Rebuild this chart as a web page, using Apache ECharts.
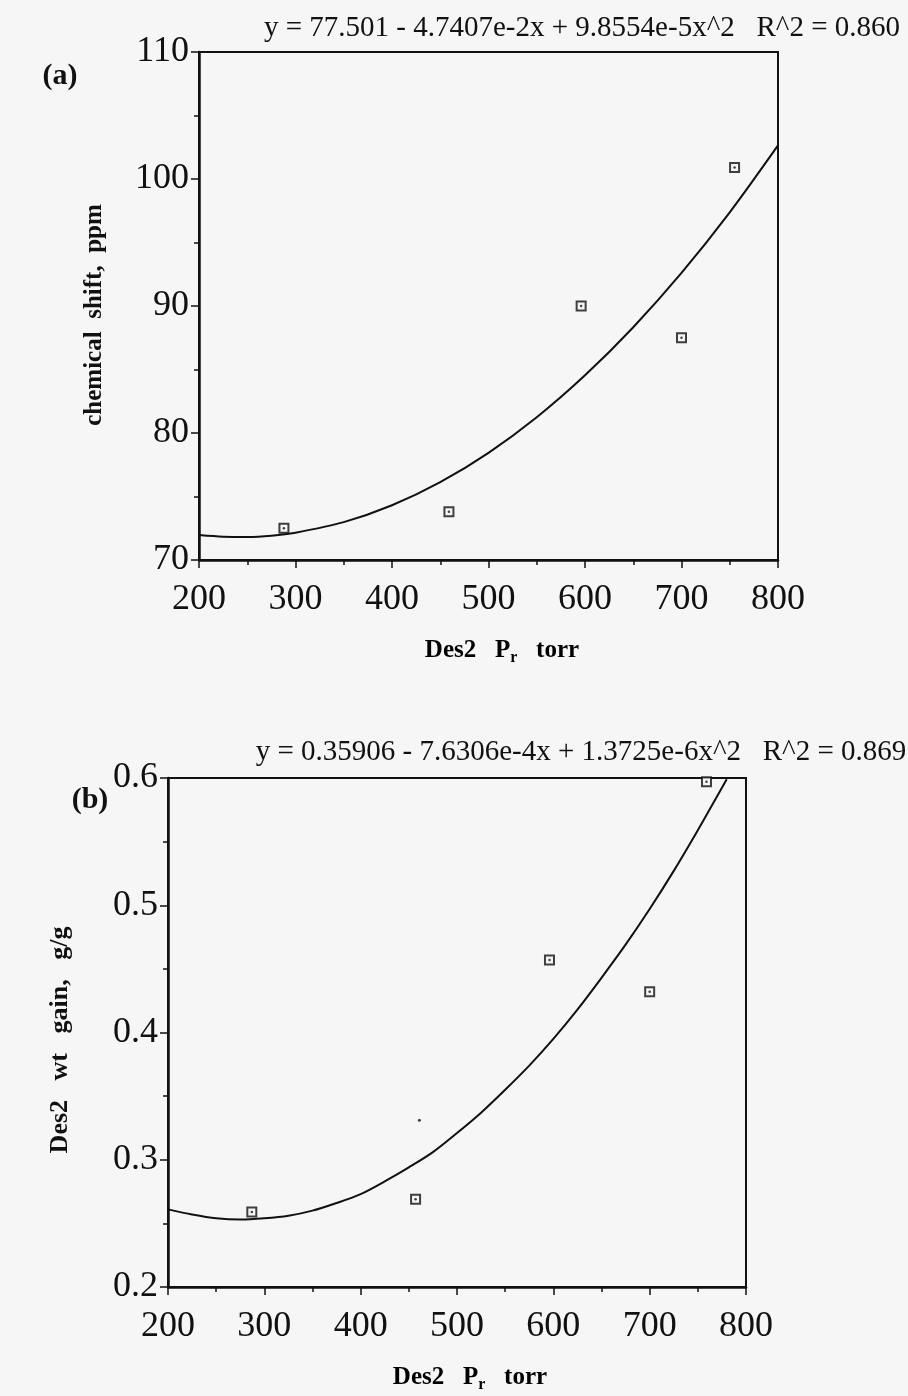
<!DOCTYPE html>
<html>
<head>
<meta charset="utf-8">
<script src="https://cdn.jsdelivr.net/npm/echarts@6/dist/echarts.min.js"></script>
<style>
html,body{margin:0;padding:0;background:#f6f6f6;}
#chart{width:908px;height:1396px;}
</style>
</head>
<body>
<div id="chart"></div>
<script>
// ---- data ----
var xTicks = [200, 300, 400, 500, 600, 700, 800];

// panel (a): chemical shift, ppm
var pressA = [288, 459, 596, 700, 755];
var shiftA = [72.5, 73.8, 90.0, 87.5, 100.9];
var fitXA = [200, 225, 250, 275, 300, 350, 400, 450, 500, 550, 600, 650, 700, 750, 800];
var fitYA = [71.96, 71.83, 71.81, 71.91, 72.15, 72.98, 74.31, 76.13, 78.44, 81.24, 84.54, 88.33, 92.61, 97.38, 102.65];
var eqA = 'y = 77.501 - 4.7407e-2x + 9.8554e-5x^2   R^2 = 0.860';

// panel (b): wt gain, g/g
var pressB = [287, 457, 596, 700, 759];
var gainB = [0.259, 0.269, 0.457, 0.432, 0.597];
var strayB = [[461, 0.331]];
var fitXB = [200, 225, 250, 275, 300, 325, 350, 375, 400, 425, 450, 475, 500, 525, 550, 575, 600, 625, 650, 675, 700, 725, 750, 765, 780];
var fitYB = [0.261, 0.257, 0.254, 0.253, 0.254, 0.256, 0.260, 0.266, 0.273, 0.283, 0.294, 0.306, 0.321, 0.337, 0.355, 0.374, 0.395, 0.418, 0.443, 0.469, 0.497, 0.527, 0.559, 0.579, 0.599];
var eqB = 'y = 0.35906 - 7.6306e-4x + 1.3725e-6x^2   R^2 = 0.869';

function zip(a, b) { return a.map(function (v, i) { return [v, b[i]]; }); }

var BG = '#f6f6f6';
var serif = '"Liberation Serif", "DejaVu Serif", serif';
var tickFont = { fontFamily: serif, fontSize: 36, color: '#111' };

function xAx(gi) {
  return {
    gridIndex: gi, type: 'value', min: 200, max: 800, interval: 100,
    axisLine: { show: true, lineStyle: { color: '#111', width: 2.5 } },
    axisTick: { show: true, inside: false, length: 8, lineStyle: { color: '#111', width: 1.5 } },
    minorTick: { show: true, splitNumber: 2, length: 5, lineStyle: { color: '#111', width: 1.5 } },
    splitLine: { show: false },
    axisLabel: Object.assign({ margin: 22 }, tickFont)
  };
}
function yAx(gi, min, max, interval, fmt) {
  return {
    gridIndex: gi, type: 'value', min: min, max: max, interval: interval,
    axisLine: { show: true, lineStyle: { color: '#111', width: 2.5 } },
    axisTick: { show: true, inside: false, length: 8, lineStyle: { color: '#111', width: 1.5 } },
    minorTick: { show: true, splitNumber: 2, length: 5, lineStyle: { color: '#111', width: 1.5 } },
    splitLine: { show: false },
    axisLabel: Object.assign({ margin: 10, formatter: fmt }, tickFont)
  };
}

function pts(gi, data) {
  return [{
    type: 'scatter', xAxisIndex: gi, yAxisIndex: gi, data: data,
    symbol: 'rect', symbolSize: 9, z: 5,
    itemStyle: { color: BG, borderColor: '#111', borderWidth: 2 }
  }, {
    type: 'scatter', xAxisIndex: gi, yAxisIndex: gi, data: data,
    symbol: 'circle', symbolSize: 2.5, z: 6,
    itemStyle: { color: '#111' }
  }];
}
function fit(gi, data) {
  return {
    type: 'line', xAxisIndex: gi, yAxisIndex: gi, data: data, smooth: 0.3,
    showSymbol: false, lineStyle: { color: '#111', width: 2 }, z: 4
  };
}

var xTitleRich = {
  b: { fontFamily: serif, fontSize: 25, fontWeight: 'bold', color: '#111' },
  s: { fontFamily: serif, fontSize: 16, fontWeight: 'bold', color: '#111', padding: [14, 0, 0, 0] }
};

var chart = echarts.init(document.getElementById('chart'), null, { renderer: 'canvas' });
chart.setOption({
  backgroundColor: BG,
  animation: false,
  grid: [
    { left: 199, top: 52, width: 579, height: 508, show: true, borderColor: '#111', borderWidth: 2, backgroundColor: 'transparent' },
    { left: 168, top: 778, width: 578, height: 509, show: true, borderColor: '#111', borderWidth: 2, backgroundColor: 'transparent' }
  ],
  xAxis: [xAx(0), xAx(1)],
  yAxis: [
    yAx(0, 70, 110, 10, function (v) { return String(v); }),
    yAx(1, 0.2, 0.6, 0.1, function (v) { return v.toFixed(1); })
  ],
  series: [fit(0, zip(fitXA, fitYA))].concat(pts(0, zip(pressA, shiftA)))
    .concat([fit(1, zip(fitXB, fitYB))]).concat(pts(1, zip(pressB, gainB)))
    .concat([{
      type: 'scatter', xAxisIndex: 1, yAxisIndex: 1, data: strayB,
      symbol: 'circle', symbolSize: 3, itemStyle: { color: '#111' }
    }]),
  graphic: [
    { type: 'text', x: 582, y: 28, style: { text: eqA, font: '29px ' + serif, fill: '#111', align: 'center', verticalAlign: 'middle' } },
    { type: 'text', x: 581, y: 752, style: { text: eqB, font: '29px ' + serif, fill: '#111', align: 'center', verticalAlign: 'middle' } },
    { type: 'text', x: 60, y: 76, style: { text: '(a)', font: 'bold 30px ' + serif, fill: '#111', align: 'center', verticalAlign: 'middle' } },
    { type: 'text', x: 90, y: 800, style: { text: '(b)', font: 'bold 30px ' + serif, fill: '#111', align: 'center', verticalAlign: 'middle' } },
    { type: 'text', x: 95, y: 315, rotation: Math.PI / 2,
      style: { text: 'chemical  shift,  ppm', font: 'bold 25px ' + serif, fill: '#111', align: 'center', verticalAlign: 'middle' } },
    { type: 'text', x: 60, y: 1040, rotation: Math.PI / 2,
      style: { text: 'Des2   wt   gain,   g/g', font: 'bold 26px ' + serif, fill: '#111', align: 'center', verticalAlign: 'middle' } },
    { type: 'text', x: 502, y: 651,
      style: { text: '{b|Des2   P}{s|r}{b|   torr}', rich: xTitleRich, align: 'center', verticalAlign: 'middle' } },
    { type: 'text', x: 470, y: 1378,
      style: { text: '{b|Des2   P}{s|r}{b|   torr}', rich: xTitleRich, align: 'center', verticalAlign: 'middle' } }
  ]
});
</script>
</body>
</html>
